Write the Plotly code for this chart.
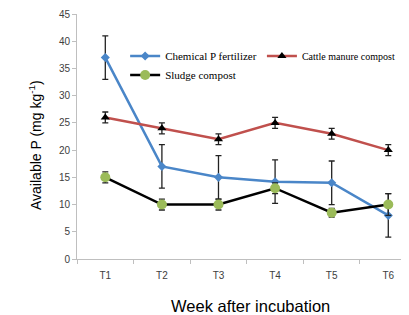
import plotly.graph_objects as go

weeks = ["T1", "T2", "T3", "T4", "T5", "T6"]
chem = [37, 17, 15, 14.2, 14, 8]
chem_err = [4, 4, 4, 4, 4, 4]
cattle = [26, 24, 22, 25, 23, 20]
cattle_err = [1, 1, 1, 1, 1, 1]
sludge = [15, 10, 10, 13, 8.5, 10]
sludge_err = [1, 1, 1, 1, 0.8, 2]

fig = go.Figure()

def add(name, y, err, lcolor, msym, mcolor, msize, legend):
    fig.add_trace(go.Scatter(
        x=weeks, y=y, name=name, mode="lines+markers", legend=legend,
        line=dict(color=lcolor, width=2.5),
        marker=dict(symbol=msym, color=mcolor, size=msize),
        error_y=dict(type="data", array=err, visible=True, color="#222222",
                     thickness=1.3, width=3),
    ))

add("Chemical P fertilizer", chem, chem_err, "#4a86c8", "diamond", "#4a86c8", 7, "legend")
add("Cattle manure compost", cattle, cattle_err, "#c0504d", "triangle-up", "#000000", 8, "legend2")
add("Sludge compost", sludge, sludge_err, "#000000", "circle", "#9bbb59", 10, "legend")

fig.update_layout(
    width=401, height=307,
    margin=dict(l=69, r=0, t=6, b=56),
    paper_bgcolor="white", plot_bgcolor="white",
    showlegend=True,
    legend=dict(orientation="v", x=0.145, y=0.888, xanchor="left", yanchor="top",
                font=dict(family="Liberation Serif", size=11, color="#000"),
                itemwidth=30, bgcolor="rgba(0,0,0,0)"),
    legend2=dict(orientation="v", x=0.557, y=0.888, xanchor="left", yanchor="top",
                 font=dict(family="Liberation Serif", size=10, color="#000"),
                 itemwidth=30, bgcolor="rgba(0,0,0,0)"),
    xaxis=dict(type="category", range=[-0.5, 5.366], showline=True,
               linecolor="#bfbfbf", linewidth=1, ticks="outside",
               tickson="boundaries", ticklen=4, tickcolor="#bfbfbf",
               showgrid=False, zeroline=False, ticklabelstandoff=7,
               tickfont=dict(family="Liberation Sans", size=10, color="#404040")),
    yaxis=dict(range=[0, 45], dtick=5, showline=True, linecolor="#bfbfbf",
               linewidth=1, ticks="outside", ticklen=4, tickcolor="#bfbfbf",
               showgrid=False, zeroline=False,
               tickfont=dict(family="Liberation Sans", size=10, color="#404040")),
    annotations=[
        dict(text="Week after incubation", xref="paper", yref="paper",
             x=(250 - 77) / 332, y=-(298 - 251) / 245, xanchor="center",
             yanchor="middle", showarrow=False,
             font=dict(family="Liberation Sans", size=16.5, color="#000")),
        dict(text="Available P (mg kg<sup>-1</sup>)", xref="paper", yref="paper",
             x=-(77 - 35) / 332, y=(251 - 137) / 245, xanchor="center",
             yanchor="middle", showarrow=False, textangle=-90,
             font=dict(family="Liberation Sans", size=14, color="#000")),
    ],
)

fig.write_html("out.html")
